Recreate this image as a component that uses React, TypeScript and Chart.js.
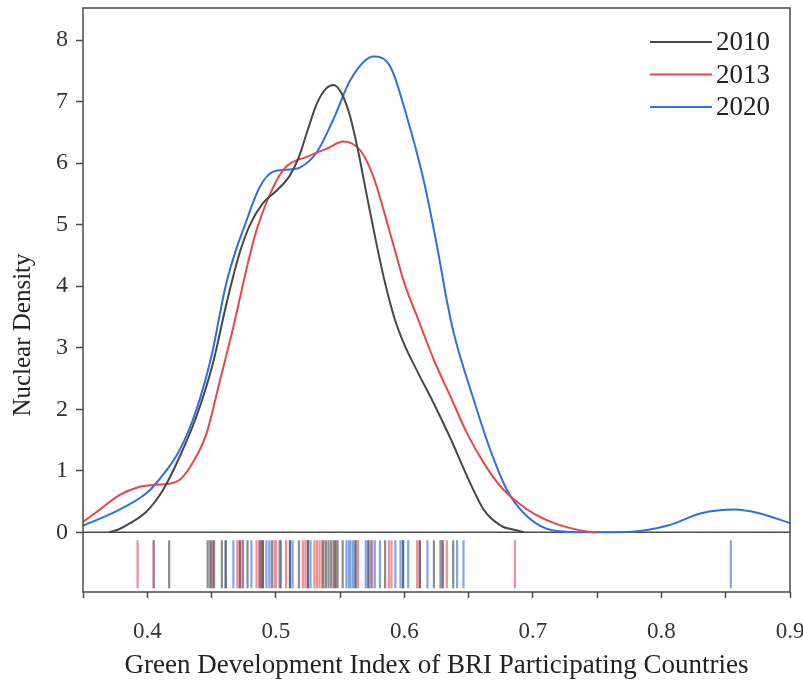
import React, { useEffect, useRef } from "react";
import { Chart, registerables } from "chart.js";

Chart.register(...registerables);

// ---------- data ----------
const seriesLabels = ["2010", "2013", "2020"];

const density2010: [number, number][] = [
  [0.37, 0], [0.378, 0.05], [0.386, 0.14], [0.399, 0.33], [0.412, 0.68], [0.425, 1.22],
  [0.438, 1.87], [0.451, 2.74], [0.462, 3.75], [0.472, 4.55], [0.48, 5.0], [0.49, 5.35],
  [0.5005, 5.55], [0.511, 5.8], [0.518, 6.1], [0.525, 6.55], [0.532, 6.97], [0.539, 7.21],
  [0.545, 7.27], [0.551, 7.14], [0.5575, 6.78], [0.564, 6.2], [0.571, 5.45], [0.578, 4.72],
  [0.585, 4.05], [0.592, 3.5], [0.6, 3.05], [0.61, 2.62], [0.623, 2.09], [0.636, 1.52],
  [0.649, 0.9], [0.662, 0.36], [0.675, 0.11], [0.688, 0.03], [0.693, 0],
];

const density2013: [number, number][] = [
  [0.35, 0.17], [0.3625, 0.36], [0.378, 0.6], [0.394, 0.74], [0.404, 0.77], [0.417, 0.79],
  [0.425, 0.85], [0.435, 1.12], [0.446, 1.6], [0.456, 2.42], [0.467, 3.34], [0.477, 4.26],
  [0.485, 4.91], [0.498, 5.61], [0.508, 5.94], [0.524, 6.1], [0.54, 6.24], [0.5526, 6.35],
  [0.56, 6.31], [0.566, 6.2], [0.572, 5.98], [0.578, 5.65], [0.585, 5.15], [0.592, 4.63],
  [0.6, 4.05], [0.61, 3.5], [0.623, 2.8], [0.636, 2.2], [0.649, 1.6], [0.662, 1.12],
  [0.675, 0.74], [0.688, 0.49], [0.701, 0.3], [0.714, 0.17], [0.727, 0.08], [0.743, 0.01],
  [0.75, 0],
];

const density2020: [number, number][] = [
  [0.35, 0.11], [0.3727, 0.31], [0.399, 0.63], [0.409, 0.85], [0.425, 1.33], [0.438, 1.98],
  [0.451, 2.96], [0.456, 3.5], [0.4615, 4.05], [0.469, 4.59], [0.4745, 4.91], [0.4875, 5.61],
  [0.498, 5.86], [0.508, 5.89], [0.519, 5.93], [0.532, 6.18], [0.545, 6.72], [0.558, 7.35],
  [0.576, 7.73], [0.589, 7.57], [0.602, 6.75], [0.615, 5.72], [0.6255, 4.64], [0.633, 3.77],
  [0.6385, 3.23], [0.654, 2.15], [0.667, 1.33], [0.68, 0.68], [0.696, 0.25], [0.716, 0.03],
  [0.74, 0], [0.777, 0.01], [0.805, 0.11], [0.831, 0.31], [0.857, 0.37], [0.876, 0.31],
  [0.9, 0.15],
];

const rug2010 = [
  0.417, 0.447, 0.449, 0.452, 0.458, 0.461, 0.472, 0.478, 0.488, 0.49, 0.497, 0.503, 0.511,
  0.518, 0.525, 0.537, 0.539, 0.541, 0.543, 0.545, 0.547, 0.548, 0.552, 0.562, 0.572, 0.585,
  0.599, 0.612, 0.623, 0.63, 0.638,
];
const rug2013 = [
  0.3925, 0.405, 0.451, 0.47, 0.472, 0.474, 0.485, 0.487, 0.49, 0.499, 0.5, 0.508, 0.521,
  0.523, 0.53, 0.532, 0.534, 0.536, 0.546, 0.564, 0.572, 0.575, 0.588, 0.59, 0.61, 0.612,
  0.629, 0.633, 0.686,
];
const rug2020 = [
  0.405, 0.45, 0.461, 0.467, 0.4745, 0.481, 0.489, 0.4927, 0.495, 0.504, 0.511, 0.513, 0.525,
  0.527, 0.555, 0.557, 0.558, 0.56, 0.562, 0.57, 0.574, 0.577, 0.581, 0.593, 0.597, 0.599,
  0.603, 0.618, 0.628, 0.641, 0.646, 0.854,
];

const yTickValues = [0, 1, 2, 3, 4, 5, 6, 7, 8];
const xTitle = "Green Development Index of BRI Participating Countries";
const yTitle = "Nuclear Density";

// ---------- styles ----------
const FONT = '"Liberation Serif", "Times New Roman", serif';
const curveColors = ["#474747", "#e8464f", "#2f6fe0"];
const rugColors = ["rgba(70,70,70,0.62)", "rgba(228,70,82,0.6)", "rgba(45,105,220,0.6)"];
const RUG_TOP = -0.13;
const RUG_BOTTOM = -0.91;

function rugData(vals: number[]) {
  const out: { x: number; y: number | null }[] = [];
  for (const v of vals) {
    out.push({ x: v, y: RUG_TOP }, { x: v, y: RUG_BOTTOM }, { x: v, y: null });
  }
  return out;
}

const framePlugin = {
  id: "framePlugin",
  beforeDatasetsDraw(chart: any) {
    const { ctx, chartArea: a, scales } = chart;
    ctx.save();
    ctx.strokeStyle = "#4a4a4a";
    ctx.lineWidth = 1.5;
    const y0 = scales.y.getPixelForValue(0);
    ctx.beginPath();
    ctx.moveTo(a.left, y0);
    ctx.lineTo(a.right, y0);
    ctx.stroke();
    ctx.restore();
  },
  afterDraw(chart: any) {
    const { ctx, chartArea: a } = chart;
    ctx.save();
    ctx.strokeStyle = "#4a4a4a";
    ctx.lineWidth = 1.5;
    ctx.strokeRect(a.left, a.top, a.right - a.left, a.bottom - a.top);
    // y title
    ctx.save();
    ctx.translate(23, 335);
    ctx.rotate(-Math.PI / 2);
    ctx.font = `25px ${FONT}`;
    ctx.textAlign = "center";
    ctx.textBaseline = "middle";
    ctx.fillStyle = "#222";
    ctx.fillText(yTitle, 0, 0);
    ctx.restore();
    // legend
    ctx.font = `27px ${FONT}`;
    ctx.textAlign = "left";
    ctx.textBaseline = "middle";
    for (let i = 0; i < seriesLabels.length; i++) {
      const y = 42 + i * 32.5;
      ctx.strokeStyle = curveColors[i];
      ctx.lineWidth = 2;
      ctx.beginPath();
      ctx.moveTo(650, y);
      ctx.lineTo(712, y);
      ctx.stroke();
      ctx.fillStyle = "#222";
      ctx.fillText(seriesLabels[i], 716, y + 1);
    }
    ctx.restore();
  },
};

export default function App() {
  const ref = useRef<HTMLCanvasElement | null>(null);

  useEffect(() => {
    if (!ref.current) return;
    const curves = [density2010, density2013, density2020];
    const rugs = [rug2010, rug2013, rug2020];
    const datasets: any[] = [];
    curves.forEach((c, i) => {
      datasets.push({
        label: seriesLabels[i],
        data: c.map(([x, y]) => ({ x, y })),
        borderColor: curveColors[i],
        backgroundColor: curveColors[i],
        borderWidth: 2,
        pointRadius: 0,
        cubicInterpolationMode: "monotone",
        fill: false,
      });
    });
    rugs.forEach((r, i) => {
      datasets.push({
        label: "rug " + seriesLabels[i],
        data: rugData(r),
        borderColor: rugColors[i],
        borderWidth: 2.2,
        pointRadius: 0,
        spanGaps: false,
        tension: 0,
        fill: false,
      });
    });

    const chart = new Chart(ref.current, {
      type: "line",
      data: { datasets },
      plugins: [framePlugin],
      options: {
        animation: false,
        responsive: false,
        maintainAspectRatio: false,
        layout: { padding: { top: 8, right: 13, left: 0, bottom: 0 } },
        plugins: { legend: { display: false }, tooltip: { enabled: false } },
        scales: {
          x: {
            type: "linear",
            min: 0.35,
            max: 0.9,
            afterFit: (s: any) => {
              s.height = 90;
              s.paddingLeft = 0;
              s.paddingRight = 0;
            },
            ticks: {
              stepSize: 0.05,
              autoSkip: false,
              maxRotation: 0,
              padding: 20,
              color: "#333",
              font: { family: FONT, size: 23 },
              callback: (v: any) => {
                const n = Math.round(Number(v) * 100);
                return n % 10 === 0 ? (n / 100).toFixed(1) : "";
              },
            },
            grid: {
              drawOnChartArea: false,
              drawTicks: true,
              tickLength: 6,
              tickColor: "#4a4a4a",
              tickWidth: 1.5,
            },
            border: { display: false },
            title: {
              display: true,
              text: xTitle,
              color: "#222",
              font: { family: FONT, size: 27 },
              padding: { top: 0, bottom: 0 },
            },
          },
          y: {
            type: "linear",
            min: -0.97,
            max: 8.52,
            afterFit: (s: any) => {
              s.width = 83;
              s.paddingTop = 0;
              s.paddingBottom = 0;
            },
            afterBuildTicks: (s: any) => {
              s.ticks = yTickValues.map((v) => ({ value: v }));
            },
            ticks: {
              padding: 8,
              color: "#333",
              font: { family: FONT, size: 24 },
              callback: (v: any) => String(v),
            },
            grid: {
              drawOnChartArea: false,
              drawTicks: true,
              tickLength: 7,
              tickColor: "#4a4a4a",
              tickWidth: 1.5,
            },
            border: { display: false },
          },
        },
      },
    });
    return () => chart.destroy();
  }, []);

  return (
    <div style={{ position: "fixed", left: 0, top: 0, width: 803, height: 682, background: "#fff" }}>
      <canvas ref={ref} width={803} height={682} style={{ display: "block", width: 803, height: 682 }} />
    </div>
  );
}
